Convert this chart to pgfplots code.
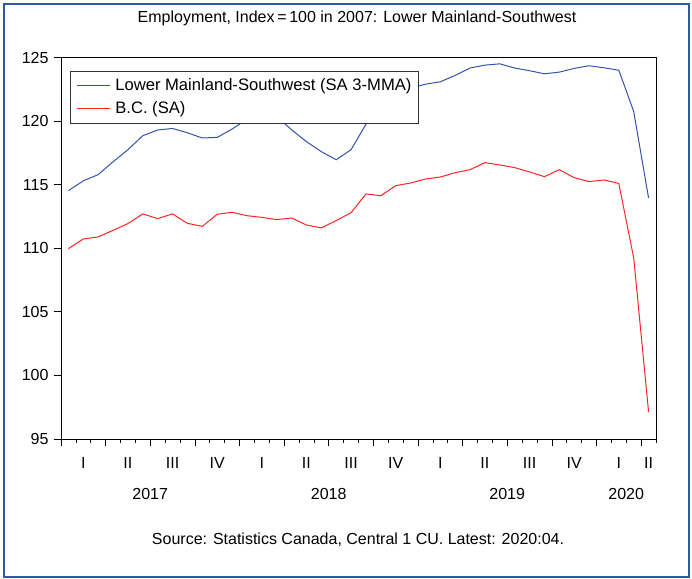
\documentclass[border=0pt]{standalone}
\usepackage{pgfplots}
\pgfplotsset{compat=1.18}
\usepackage{fontspec}
\setmainfont{Liberation Sans}

\definecolor{lmblue}{RGB}{52,84,172}
\definecolor{bcred}{RGB}{255,36,36}
\definecolor{framebl}{RGB}{46,92,154}

\begin{document}
\fontsize{16bp}{19bp}\selectfont
\begin{tikzpicture}
\useasboundingbox (-61bp,-140bp) rectangle (631bp,439bp);
\fill[white] (-61bp,-140bp) rectangle (631bp,439bp);
\begin{axis}[
    at={(0,0)}, anchor=south west,
    scale only axis,
    width=595bp, height=381.5bp,
    xmin=0, xmax=40, ymin=95, ymax=125,
    clip mode=individual,
    axis line style={line width=0.8bp},
    tick align=outside, tick pos=left,
    tick style={black, line width=0.7bp},
    major tick length=7bp, minor tick length=4bp,
    xtick={0,3,...,39}, xticklabels={},
    minor xtick={0,...,40},
    ytick={95,100,...,125},
    /pgf/number format/assume math mode=true,
    tick label style={font=\fontsize{16bp}{19bp}\selectfont},
    extra x ticks={1.5,4.5,...,37.5,39.5},
    extra x tick labels={I,II,III,IV,I,II,III,IV,I,II,III,IV,I,II},
    extra x tick style={tick style={draw=none}, tick label style={yshift=-6bp}},
    legend style={at={(0.0151,0.9646)}, anchor=north west,
      draw=black!80, line width=0.7bp, fill=white,
      inner xsep=6bp, inner ysep=6bp, row sep=7bp, column sep=4bp,
      nodes={inner sep=1bp},
      font=\fontsize{16.6bp}{19bp}\selectfont},
    legend cell align=left,
    legend image code/.code={\draw[#1] (0bp,0bp) -- (33bp,0bp);},
  ]
  % Lower Mainland-Southwest, monthly, Jan 2017 - Apr 2020
  \addplot[color=lmblue, line width=1bp, mark=none] coordinates {
    (0.5,114.53) (1.5,115.30) (2.5,115.79) (3.5,116.80) (4.5,117.75)
    (5.5,118.85) (6.5,119.30) (7.5,119.42) (8.5,119.08) (9.5,118.67)
    (10.5,118.72) (11.5,119.37) (12.5,120.15) (13.5,120.45) (14.5,120.35)
    (15.5,119.32) (16.5,118.38) (17.5,117.60) (18.5,116.96) (19.5,117.75)
    (20.5,119.75) (21.5,121.20) (22.5,122.20) (23.5,122.60) (24.5,122.90)
    (25.5,123.09) (26.5,123.59) (27.5,124.17) (28.5,124.40) (29.5,124.50)
    (30.5,124.17) (31.5,123.96) (32.5,123.72) (33.5,123.85) (34.5,124.14)
    (35.5,124.35) (36.5,124.19) (37.5,124.00) (38.5,120.76) (39.5,113.96)
  };
  \addlegendentry{Lower Mainland-Southwest (SA 3-MMA)}
  % B.C.
  \addplot[color=bcred, line width=1bp, mark=none] coordinates {
    (0.5,109.97) (1.5,110.73) (2.5,110.89) (3.5,111.41) (4.5,111.94)
    (5.5,112.70) (6.5,112.33) (7.5,112.70) (8.5,111.96) (9.5,111.72)
    (10.5,112.67) (11.5,112.83) (12.5,112.56) (13.5,112.43) (14.5,112.25)
    (15.5,112.38) (16.5,111.83) (17.5,111.60) (18.5,112.17) (19.5,112.80)
    (20.5,114.27) (21.5,114.13) (22.5,114.92) (23.5,115.13) (24.5,115.44)
    (25.5,115.60) (26.5,115.94) (27.5,116.18) (28.5,116.73) (29.5,116.55)
    (30.5,116.34) (31.5,116.00) (32.5,115.63) (33.5,116.18) (34.5,115.55)
    (35.5,115.24) (36.5,115.37) (37.5,115.10) (38.5,109.24) (39.5,97.14)
  };
  \addlegendentry{B.C. (SA)}
  \node[anchor=center, yshift=-55bp] at (axis cs:6,95) {2017};
  \node[anchor=center, yshift=-55bp] at (axis cs:18,95) {2018};
  \node[anchor=center, yshift=-55bp] at (axis cs:30,95) {2019};
  \node[anchor=center, yshift=-55bp] at (axis cs:38,95) {2020};
\end{axis}
\node[anchor=center] at (296bp,421bp) {Employment, Index\,=\,100 in 2007: Lower Mainland-Southwest};
\node[anchor=center] at (297bp,-101bp) {Source: Statistics Canada, Central 1 CU. Latest: 2020:04.};
\draw[framebl, line width=2.4bp] (-57bp,-138bp) rectangle (628bp,435bp);
\end{tikzpicture}
\end{document}
